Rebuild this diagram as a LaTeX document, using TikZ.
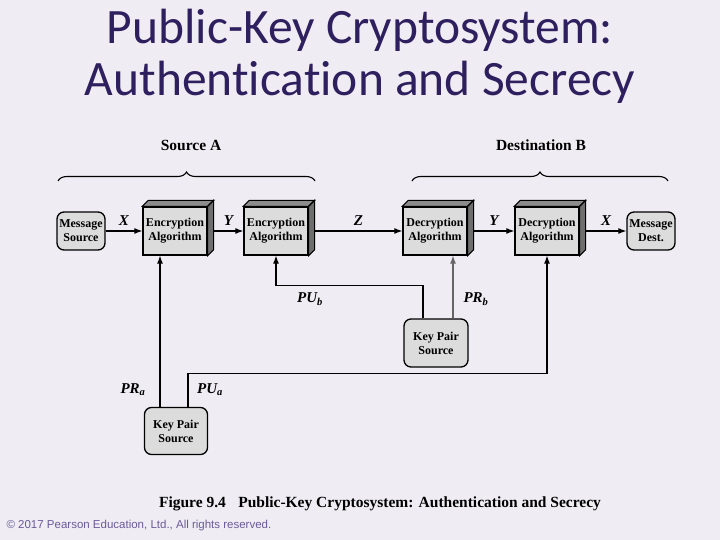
\documentclass[tikz,border=0pt]{standalone}
\usepackage{fontspec}
\setmainfont{Liberation Serif}
\newfontfamily\titlefont[Ligatures=NoCommon]{Carlito}
\newfontfamily\copyfont{Liberation Sans}
\usetikzlibrary{arrows.meta,decorations.pathreplacing,calc}
\definecolor{bgc}{HTML}{EFEDF3}
\definecolor{titlec}{HTML}{2E1F5E}
\definecolor{boxfill}{HTML}{DCDCDC}
\definecolor{topface}{HTML}{8C8C8C}
\definecolor{sideface}{HTML}{6E6E6E}
\definecolor{copyc}{HTML}{6A5A9A}
\tikzset{
  arr/.style={line width=1.1pt,-{Latex[length=8pt,width=6pt]}},
  algbox/.style={draw,line width=1.3pt,fill=boxfill,minimum width=64pt,minimum height=48pt,
    inner sep=0pt,align=center,font=\bfseries\fontsize{12}{14}\selectfont},
  rbox/.style={draw,line width=1.3pt,fill=boxfill,rounded corners=7pt,inner sep=0pt,align=center,
    font=\bfseries\fontsize{12}{14}\selectfont},
  lab/.style={font=\bfseries\itshape\fontsize{15}{17}\selectfont},
  grp/.style={font=\bfseries\fontsize{15.5}{17}\selectfont},
  brc/.style={decorate,decoration={brace,amplitude=9pt},line width=1.1pt}
}
\newcommand{\faces}[1]{%
  \filldraw[fill=topface,line width=1.1pt] (#1.north west) -- ++(6,-6) -- ($(#1.north east)+(6,-6)$) -- (#1.north east) -- cycle;
  \filldraw[fill=sideface,line width=1.1pt] (#1.north east) -- ++(6,-6) -- ($(#1.south east)+(6,-6)$) -- (#1.south east) -- cycle;
}
\begin{document}
\begin{tikzpicture}[x=1pt,y=-1pt]
\fill[bgc] (0,0) rectangle (720,540);
\useasboundingbox (0,0) rectangle (720,540);

\node[text=titlec,font=\titlefont\fontsize{49.5}{52}\selectfont,align=center] (title) at (360,56)
  {Public-Key Cryptosystem:\\Authentication and Secrecy};

% main row
\node[rbox,minimum width=48pt,minimum height=38pt] (ms) at (81,231) {Message\\Source};
\node[algbox] (e1) at (175,231) {Encryption\\Algorithm};
\node[algbox] (e2) at (276,231) {Encryption\\Algorithm};
\node[algbox] (d1) at (435,231) {Decryption\\Algorithm};
\node[algbox] (d2) at (547,231) {Decryption\\Algorithm};
\node[rbox,minimum width=48pt,minimum height=38pt] (md) at (651,231) {Message\\Dest.};
\faces{e1}\faces{e2}\faces{d1}\faces{d2}

% key sources
\node[rbox,minimum width=64pt,minimum height=48pt] (kpb) at (436,343) {Key Pair\\Source};
\node[rbox,minimum width=63pt,minimum height=47pt] (kpa) at (176,431) {Key Pair\\Source};

% braces and group labels
\coordinate (ba1) at (58,181);
\coordinate (ba2) at (315,181);
\coordinate (bb1) at (412,181);
\coordinate (bb2) at (668,181);
\draw[brc] (ba1) -- (ba2);
\draw[brc] (bb1) -- (bb2);
\node[grp] (srcA) at (191,145) {Source A};
\node[grp] (dstB) at (541,145) {Destination B};

% message path
\draw[arr] (ms.east) -- node[lab,above=2pt] {X} (e1.west);
\draw[arr] ([xshift=6]e1.east) -- node[lab,above=2pt] {Y} (e2.west);
\draw[arr] ([xshift=6]e2.east) -- node[lab,above=2pt] {Z} (d1.west);
\draw[arr] ([xshift=6]d1.east) -- node[lab,above=2pt] {Y} (d2.west);
\draw[arr] ([xshift=6]d2.east) -- node[lab,above=2pt] {X} (md.west);

% keys
\draw[arr] ([xshift=-16]kpa.north) -- ([xshift=-16]kpa.north |- e1.south);
\draw[arr] ([xshift=12]kpa.north) -- ++(0,-33) -| (d2.south);
\draw[arr] ([xshift=-13]kpb.north) -- ++(0,-33) -| (e2.south);
\draw[arr,draw=black!60] ([xshift=17]kpb.north) -- ([xshift=17]kpb.north |- d1.south);

\node[lab] (pub) at (310,299) {PU\textsubscript{\itshape b}};
\node[lab] (prb) at (476,299) {PR\textsubscript{\itshape b}};
\node[lab] (pra) at (133,390) {PR\textsubscript{\itshape a}};
\node[lab] (pua) at (210,390) {PU\textsubscript{\itshape a}};

% caption
\node[font=\bfseries\fontsize{15.5}{17}\selectfont] (cap) at (380,504)
  {Figure 9.4\hspace{0.8em}Public-Key Cryptosystem: Authentication and Secrecy};
\node[anchor=west,text=copyc,font=\copyfont\fontsize{11.5}{13}\selectfont] (copy) at (3,526)
  {\textcopyright{} 2017 Pearson Education, Ltd., All rights reserved.};
\end{tikzpicture}
\end{document}
